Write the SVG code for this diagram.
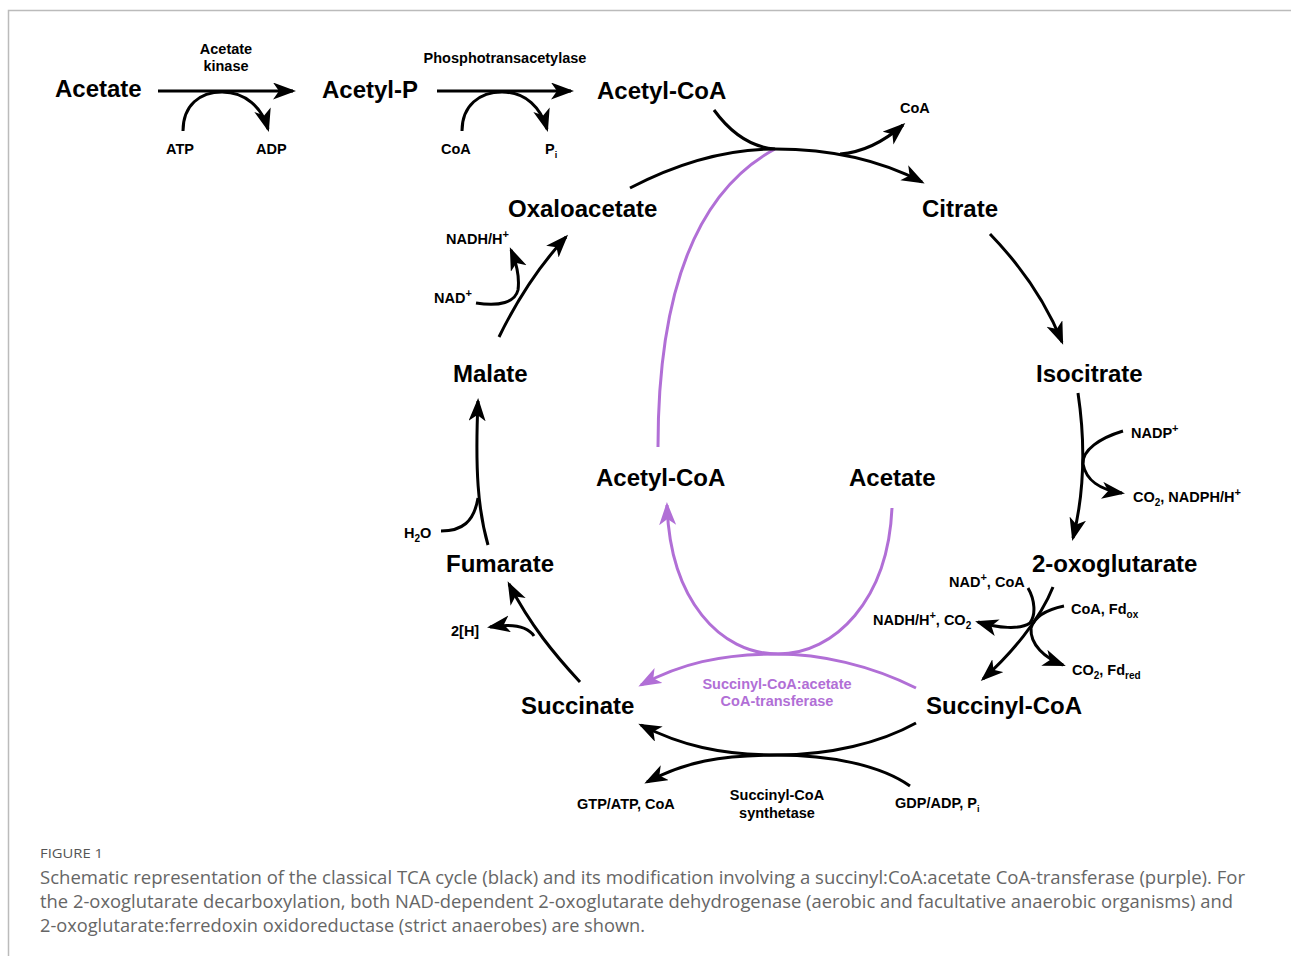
<svg xmlns="http://www.w3.org/2000/svg" width="1291" height="956" viewBox="0 0 1291 956">
<defs>
<style>
.lbl{font-family:"Liberation Sans",Arial,sans-serif;font-weight:bold;font-size:24px;fill:#000}
.sm{font-family:"Liberation Sans",Arial,sans-serif;font-weight:bold;font-size:14.5px;fill:#000}
.pl{font-family:"Liberation Sans",Arial,sans-serif;font-weight:bold;font-size:14.5px;fill:#b16fd6}
.k{fill:none;stroke:#000;stroke-width:3;stroke-linecap:butt}
.p{fill:none;stroke:#b16fd6;stroke-width:3}
.cap{font-family:"Open Sans","Liberation Sans",sans-serif;font-size:17.5px;fill:#666}
.fig{font-family:"Open Sans","Liberation Sans",sans-serif;font-size:13px;fill:#555}
</style>
<marker id="ak" markerUnits="userSpaceOnUse" markerWidth="26" markerHeight="18" viewBox="0 0 26 18" refX="20" refY="8.5" orient="auto">
<path d="M0,0 L23,8.5 L0,17 L6,8.5 z" fill="#000"/>
</marker>
<marker id="ap" markerUnits="userSpaceOnUse" markerWidth="26" markerHeight="18" viewBox="0 0 26 18" refX="20" refY="8.5" orient="auto">
<path d="M0,0 L23,8.5 L0,17 L6,8.5 z" fill="#b16fd6"/>
</marker>
</defs>
<rect width="1291" height="956" fill="#fff"/>
<path d="M8.5,956 V10.5 H1291" fill="none" stroke="#bbb" stroke-width="1.5"/>

<g id="connectors">
<path class="k" d="M158,91 H293" marker-end="url(#ak)"/>
<path class="k" d="M183,131 C183,105 200,92 222,92 C246,92 262,108 268,129" marker-end="url(#ak)"/>
<path class="k" d="M437,91 H571" marker-end="url(#ak)"/>
<path class="k" d="M462,131 C462,105 480,92 502,92 C526,92 541,108 547,129" marker-end="url(#ak)"/>
<path class="k" d="M714,110 C730,132 750,147 775,149"/>
<path class="p" d="M658,447 C658,330 680,200 775,149"/>
<path class="k" d="M630,188 C680,162 730,149 775,149 C830,149 880,160 922,182" marker-end="url(#ak)"/>
<path class="k" d="M840,154 C868,152 888,138 903,125" marker-end="url(#ak)"/>
<path class="k" d="M990,234 C1020,265 1045,300 1062,342" marker-end="url(#ak)"/>
<path class="k" d="M1078,393 C1085,440 1085,490 1073,538" marker-end="url(#ak)"/>
<path class="k" d="M1123,431 C1100,438 1082,450 1083,464 C1086,480 1100,490 1122,493" marker-end="url(#ak)"/>
<path class="k" d="M1053,587 C1040,620 1010,655 983,679" marker-end="url(#ak)"/>
<path class="k" d="M1028,588 C1035,600 1036,615 1030,623 C1020,630 998,628 978,622" marker-end="url(#ak)"/>
<path class="k" d="M1064,606 C1045,610 1034,618 1031,628 C1030,645 1045,658 1063,665" marker-end="url(#ak)"/>
<path class="p" d="M916,688 C870,665 820,654 777,654 C720,654 680,664 641,685" marker-end="url(#ap)"/>
<path class="p" d="M892,508 C888,600 835,654 778,654 C720,654 670,600 667,505" marker-end="url(#ap)"/>
<path class="k" d="M916,723 C880,743 830,755 777,755 C720,755 680,745 641,725" marker-end="url(#ak)"/>
<path class="k" d="M910,786 C880,765 830,755 777,755 C720,755 685,762 647,782" marker-end="url(#ak)"/>
<path class="k" d="M580,682 C555,655 530,625 509,584" marker-end="url(#ak)"/>
<path class="k" d="M534,636 C528,627 515,623 490,627" marker-end="url(#ak)"/>
<path class="k" d="M488,545 C478,510 475,470 478,401" marker-end="url(#ak)"/>
<path class="k" d="M441,531 C462,531 474,522 478,498"/>
<path class="k" d="M499,337 C518,298 540,265 566,237" marker-end="url(#ak)"/>
<path class="k" d="M476,303 C500,307 515,302 518,290 C520,275 516,262 511,250" marker-end="url(#ak)"/>
</g>

<g id="n-acetate-top"><text class="lbl" x="55" y="97">Acetate</text></g>
<g id="n-acetylp"><text class="lbl" x="322" y="98">Acetyl-P</text></g>
<g id="n-acetylcoa-top"><text class="lbl" x="597" y="99">Acetyl-CoA</text></g>
<g id="n-oxaloacetate"><text class="lbl" x="508" y="217">Oxaloacetate</text></g>
<g id="n-citrate"><text class="lbl" x="922" y="217">Citrate</text></g>
<g id="n-isocitrate"><text class="lbl" x="1036" y="382">Isocitrate</text></g>
<g id="n-oxoglutarate"><text class="lbl" x="1032" y="572">2-oxoglutarate</text></g>
<g id="n-succinylcoa"><text class="lbl" x="926" y="714">Succinyl-CoA</text></g>
<g id="n-succinate"><text class="lbl" x="521" y="714">Succinate</text></g>
<g id="n-fumarate"><text class="lbl" x="446" y="572">Fumarate</text></g>
<g id="n-malate"><text class="lbl" x="453" y="382">Malate</text></g>
<g id="n-acetylcoa-mid"><text class="lbl" x="596" y="486">Acetyl-CoA</text></g>
<g id="n-acetate-mid"><text class="lbl" x="849" y="486">Acetate</text></g>

<g id="labels">
<text class="sm" x="226" y="54" text-anchor="middle">Acetate</text>
<text class="sm" x="226" y="71" text-anchor="middle">kinase</text>
<text class="sm" x="166" y="154">ATP</text>
<text class="sm" x="256" y="154">ADP</text>
<text class="sm" x="505" y="63" text-anchor="middle">Phosphotransacetylase</text>
<text class="sm" x="441" y="154">CoA</text>
<text class="sm" x="545" y="154">P<tspan font-size="9" dy="4">i</tspan></text>
<text class="sm" x="900" y="113">CoA</text>
<text class="sm" x="1131" y="438">NADP<tspan font-size="11" dy="-6">+</tspan></text>
<text class="sm" x="1133" y="502">CO<tspan font-size="10" dy="4">2</tspan><tspan dy="-4">, NADPH/H</tspan><tspan font-size="11" dy="-6">+</tspan></text>
<text class="sm" x="949" y="587">NAD<tspan font-size="11" dy="-6">+</tspan><tspan dy="6">, CoA</tspan></text>
<text class="sm" x="873" y="625">NADH/H<tspan font-size="11" dy="-6">+</tspan><tspan dy="6">, CO</tspan><tspan font-size="10" dy="4">2</tspan></text>
<text class="sm" x="1071" y="614">CoA, Fd<tspan font-size="10" dy="4">ox</tspan></text>
<text class="sm" x="1072" y="675">CO<tspan font-size="10" dy="4">2</tspan><tspan dy="-4">, Fd</tspan><tspan font-size="10" dy="4">red</tspan></text>
<text class="pl" x="777" y="689" text-anchor="middle">Succinyl-CoA:acetate</text>
<text class="pl" x="777" y="706" text-anchor="middle">CoA-transferase</text>
<text class="sm" x="577" y="809">GTP/ATP, CoA</text>
<text class="sm" x="777" y="800" text-anchor="middle">Succinyl-CoA</text>
<text class="sm" x="777" y="818" text-anchor="middle">synthetase</text>
<text class="sm" x="895" y="808">GDP/ADP, P<tspan font-size="9" dy="4">i</tspan></text>
<text class="sm" x="451" y="636">2[H]</text>
<text class="sm" x="404" y="538">H<tspan font-size="10" dy="4">2</tspan><tspan dy="-4">O</tspan></text>
<text class="sm" x="446" y="244">NADH/H<tspan font-size="11" dy="-6">+</tspan></text>
<text class="sm" x="434" y="303">NAD<tspan font-size="11" dy="-6">+</tspan></text>
</g>

<g id="caption">
<text class="fig" x="40" y="858" textLength="63" lengthAdjust="spacingAndGlyphs">FIGURE 1</text>
<text class="cap" x="40" y="884" textLength="1205" lengthAdjust="spacingAndGlyphs">Schematic representation of the classical TCA cycle (black) and its modification involving a succinyl:CoA:acetate CoA-transferase (purple). For</text>
<text class="cap" x="40" y="908" textLength="1193" lengthAdjust="spacingAndGlyphs">the 2-oxoglutarate decarboxylation, both NAD-dependent 2-oxoglutarate dehydrogenase (aerobic and facultative anaerobic organisms) and</text>
<text class="cap" x="40" y="932" textLength="605" lengthAdjust="spacingAndGlyphs">2-oxoglutarate:ferredoxin oxidoreductase (strict anaerobes) are shown.</text>
</g>
</svg>
